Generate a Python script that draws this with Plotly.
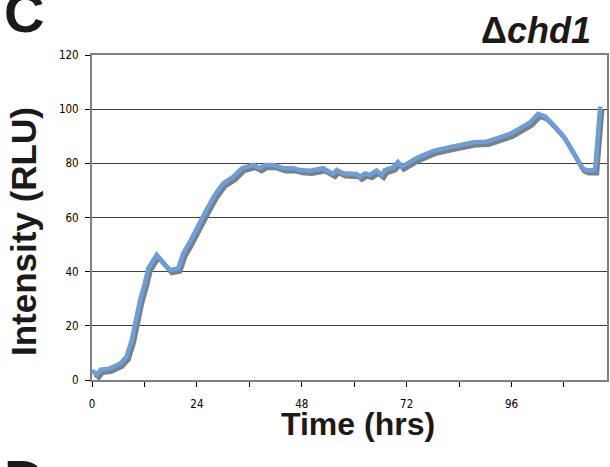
import plotly.graph_objects as go

# Data
time_hrs = [0, 1.1, 2, 4, 6.4, 7.9, 9.1, 9.8, 11, 12.1, 12.9, 14.8, 16.2, 17.8, 19.7,
            20.9, 22.4, 24.7, 26.2, 28.1, 30, 32.3, 34.3, 36.9, 38.4, 39.6, 41.5, 43.8,
            46.1, 47.6, 49.9, 52.9, 55.2, 56, 57.5, 60.6, 61.3, 62.5, 63.6, 65.1, 66.3,
            67, 68.9, 70, 70.9, 74.3, 78.1, 81.9, 87.3, 90.3, 93.4, 95.7, 97.9, 100.2,
            102.1, 103.7, 105.6, 107.8, 110.1, 112.1, 113.2, 115.1, 116.3]
intensity = [3.5, 2.0, 3.8, 4.2, 6.0, 8.6, 14.8, 21, 29.5, 35.8, 41.3, 46.2, 43.7, 40.6, 41.2,
             46.8, 51, 58.5, 62.8, 68.3, 72.6, 75, 78.2, 79.4, 78.2, 79.4, 79.4, 78.2,
             78.2, 77.5, 77.3, 78.2, 76.1, 77.5, 76.3, 76.1, 75.1, 76.3, 75.7, 77.3, 75.7,
             77.5, 78.5, 80.5, 78.8, 82.0, 84.6, 86.0, 87.8, 88.0, 89.8, 90.9, 92.9, 95.1,
             98.3, 97.3, 94.2, 90.2, 84.0, 78.3, 77.4, 77.4, 101]

x_ticks = [0, 12, 24, 36, 48, 60, 72, 84, 96, 108]
x_ticktext = ["0", "", "24", "", "48", "", "72", "", "96", ""]
y_ticks = [0, 20, 40, 60, 80, 100, 120]

X_RANGE = [0, 117.85]
Y_RANGE = [0, 120]

W, H = 610, 467
ML, MR, MT, MB = 92, 0, 55, 84
PW = W - ML - MR
PH = H - MT - MB
DX, DY = 2, 3  # shadow offset in px

tick_font = dict(family="Liberation Sans Narrow, DejaVu Sans Condensed, Arial Narrow, sans-serif",
                 size=11.5, color="#000000")
title_font = "Liberation Sans, Arial, Helvetica, sans-serif"

fig = go.Figure()

# main axes (grid, frame, ticks) - empty trace
fig.add_trace(go.Scatter(x=[], y=[], xaxis="x", yaxis="y", showlegend=False))
# shadow
fig.add_trace(go.Scatter(x=time_hrs, y=intensity, xaxis="x2", yaxis="y2", mode="lines",
                         line=dict(color="#7f7f7f", width=4.5), showlegend=False,
                         hoverinfo="skip"))
# main series
fig.add_trace(go.Scatter(x=time_hrs, y=intensity, xaxis="x3", yaxis="y3", mode="lines",
                         line=dict(color="#6b9fd8", width=4.5), showlegend=False))

main_xdom = [0, 515 / PW]
main_ydom = [DY / PH, 1]
sh_xdom = [DX / PW, (515 + DX) / PW]
sh_ydom = [0, 1 - DY / PH]

hidden = dict(visible=False, showgrid=False, zeroline=False, fixedrange=True)

fig.update_layout(
    width=W, height=H,
    margin=dict(l=ML, r=MR, t=MT, b=MB, autoexpand=False),
    paper_bgcolor="white",
    plot_bgcolor="rgba(0,0,0,0)",
    showlegend=False,
    xaxis=dict(domain=main_xdom, range=X_RANGE, tickvals=x_ticks, ticktext=x_ticktext,
               ticks="outside", ticklen=5, tickwidth=1, tickcolor="#000000",
               showline=True, linecolor="#808080", linewidth=2, mirror=True,
               showgrid=False, zeroline=False, tickfont=tick_font,
               ticklabelstandoff=7, anchor="y"),
    yaxis=dict(domain=main_ydom, range=Y_RANGE, tickvals=y_ticks,
               ticks="outside", ticklen=5, tickwidth=1, tickcolor="#000000",
               showline=True, linecolor="#808080", linewidth=2, mirror=True,
               showgrid=True, gridcolor="#404040", gridwidth=1, zeroline=False,
               tickfont=tick_font, ticklabelstandoff=4, anchor="x"),
    xaxis2=dict(domain=sh_xdom, range=X_RANGE, anchor="y2", **hidden),
    yaxis2=dict(domain=sh_ydom, range=Y_RANGE, anchor="x2", **hidden),
    xaxis3=dict(domain=main_xdom, range=X_RANGE, anchor="y3", **hidden),
    yaxis3=dict(domain=main_ydom, range=Y_RANGE, anchor="x3", **hidden),
)

def px(xp):
    return (xp - ML) / PW

def py(yp):
    return (H - MB - yp) / PH

annotations = [
    dict(text="<b>C</b>", x=px(2), y=py(12), xanchor="left", yanchor="middle",
         font=dict(family=title_font, size=56, color="#1a1a1a")),
    dict(text="<b>D</b>", x=px(2), y=py(479), xanchor="left", yanchor="middle",
         font=dict(family=title_font, size=56, color="#1a1a1a")),
    dict(text="<b>Δ<i>chd1</i></b>", x=px(536), y=py(30), xanchor="center", yanchor="middle",
         font=dict(family=title_font, size=36, color="#1a1a1a")),
    dict(text="<b>Time (hrs)</b>", x=px(358), y=py(424), xanchor="center", yanchor="middle",
         font=dict(family=title_font, size=32, color="#1a1a1a")),
    dict(text="<b>Intensity (RLU)</b>", x=px(24), y=py(232), xanchor="center", yanchor="middle",
         textangle=-90, font=dict(family=title_font, size=35, color="#1a1a1a")),
]
for a in annotations:
    a.update(xref="paper", yref="paper", showarrow=False)
fig.update_layout(annotations=annotations)

fig.write_html("out.html", config={"displayModeBar": False},
               post_script="document.body.style.margin='0px';document.body.style.overflow='hidden';")
